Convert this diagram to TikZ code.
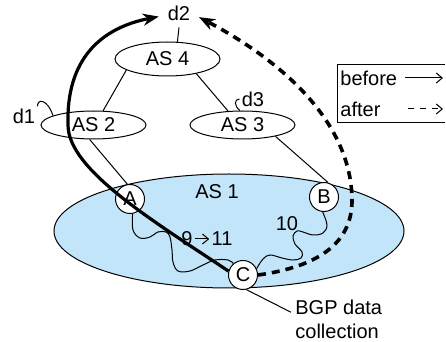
\documentclass[tikz,border=0pt]{standalone}
\usepackage{fontspec}
\setmainfont{Liberation Sans}
\usetikzlibrary{shapes.geometric,arrows.meta}
\definecolor{asblue}{RGB}{195,229,250}

\begin{document}
\begin{tikzpicture}[x=0.5pt, y=-0.5pt, font=\fontsize{10}{12}\selectfont,
    as/.style={ellipse, draw, line width=0.5pt, inner sep=0pt, minimum width=52.5pt, minimum height=14pt},
    rtr/.style={circle, draw, line width=0.5pt, fill=white, inner sep=0pt, minimum size=14.5pt},
    tag/.style={inner sep=1pt},
    link/.style={line width=0.5pt},
    before/.style={line width=1.6pt, shorten >=1pt, -{Stealth[length=8pt, width=6pt]}},
    after/.style={line width=1.8pt, dash pattern=on 4pt off 3pt, shorten >=1pt, -{Stealth[length=8pt, width=6pt]}}]
  \useasboundingbox (0,0) rectangle (446,342);

  % AS 1
  \node[ellipse, draw, line width=0.5pt, fill=asblue, minimum width=175pt, minimum height=57pt] (as1) at (229,231) {};
  \node (as1txt) at (217,192) {AS 1};

  % the other ASes
  \node[as, minimum height=17pt] (as4) at (167.5,59) {AS 4};
  \node[as] (as2) at (93.5,125) {AS 2};
  \node[as] (as3) at (242.5,125) {AS 3};

  \node (d2) at (179,13) {d2};
  \node[tag] (d1) at (24,116) {d1};
  \node[tag] (d3) at (253,99) {d3};

  \draw[link] (d2.south) -- (as4.60);
  \draw[link] (as4.195) -- (as2.56);
  \draw[link] (as4.333) -- (as3.136);
  \draw[link] (d1.north east) .. controls (37,99) and (47,98) .. (as2.167);
  \draw[link] (d3.west) .. controls (234,99) and (234,106) .. (as3.100);

  % routers
  \foreach \n/\x/\y in {A/130/199, B/324/197, C/243/275} {
    \node[rtr] (\n) at (\x,\y) {\n};
  }

  \draw[link] (as2.255) -- (A.100);
  \draw[link] (as3.341) -- (B.74);

  % IGP paths inside AS 1
  \draw[link] plot[smooth, tension=0.6] coordinates {(A.280) (133,230) (140,238) (150,237) (158,232)
    (166,232) (170,237) (172,250) (173,262) (178,271) (190,271) (203,265) (215,260) (228,260) (C.130)};
  \draw[link] plot[smooth, tension=0.6] coordinates {(B.265) (327,225) (323,233) (313,235) (303,232)
    (297,231) (293,236) (295,244) (302,252) (301,258) (293,260) (282,258) (270,255) (263,259) (C.25)};

  \node[tag] (n9) at (187,239) {9};
  \node[tag] (n11) at (222,239) {11};
  \draw[link, -{Straight Barb[length=3pt, width=5pt]}] (n9) -- (n11);
  \node (n10) at (287,224) {10};

  \node[align=left, anchor=west, inner sep=2pt] (bgp) at (291,319) {BGP data\\collection};
  \draw[link] (C.283) -- (bgp.172);

  % routes to d2
  \draw[before] (C.165) .. controls (155,222) and (68,170) .. (68,125)
    .. controls (66,60) and (100,28) .. (d2.190);
  \draw[after] (C.0) .. controls (330,265) and (353,235) .. (352,198)
    .. controls (350,120) and (280,60) .. (d2.-10);

  % legend (its right side lies past the edge)
  \draw[link] (445,65) -| (338,123) -- (445,123);
  \node[tag, anchor=west] (bflbl) at (338,78) {before};
  \node[tag, anchor=west] (aflbl) at (338,109) {after};
  \coordinate (bf1) at (405,78);
  \coordinate (bf2) at (443,78);
  \coordinate (af1) at (408,109);
  \coordinate (af2) at (443,109);
  \draw[link, -{Straight Barb[length=3pt, width=5pt]}] (bf1) -- (bf2);
  \draw[link, dash pattern=on 3pt off 3pt, -{Straight Barb[length=3pt, width=5pt]}] (af1) -- (af2);
\end{tikzpicture}
\end{document}
